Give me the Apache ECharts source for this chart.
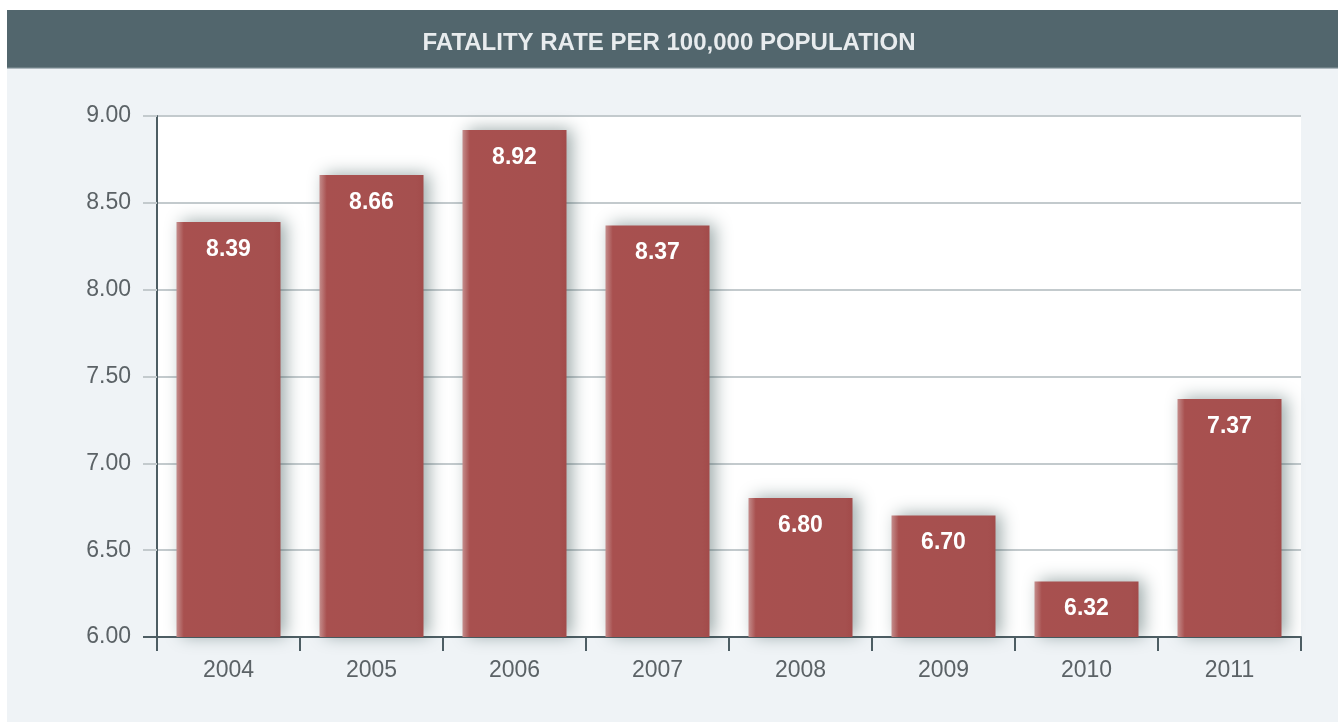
<!DOCTYPE html>
<html>
<head>
<meta charset="utf-8">
<script src="https://cdn.jsdelivr.net/npm/echarts@6/dist/echarts.min.js"></script>
<style>
  html, body { margin: 0; padding: 0; background: #ffffff; }
  #chart { width: 1338px; height: 723px; }
</style>
</head>
<body>
<div id="chart"></div>
<script>
// Fatality rate per 100,000 population, by year
const years = ['2004', '2005', '2006', '2007', '2008', '2009', '2010', '2011'];
const rates = [8.39, 8.66, 8.92, 8.37, 6.80, 6.70, 6.32, 7.37];
const yTicks = { min: 6, max: 9, step: 0.5 };
const titleText = 'FATALITY RATE PER 100,000 POPULATION';

const narrow = '"Liberation Sans Narrow", "Arial Narrow", "Liberation Sans", sans-serif';

const chart = echarts.init(document.getElementById('chart'), null, { renderer: 'canvas' });

const barFill = new echarts.graphic.LinearGradient(0, 0, 1, 0, [
  { offset: 0, color: '#c48c8b' },
  { offset: 0.07, color: '#a8504f' },
  { offset: 0.93, color: '#a5504f' },
  { offset: 1, color: '#a24b4a' }
]);

chart.setOption({
  animation: false,
  backgroundColor: '#ffffff',
  graphic: [
    { type: 'rect', silent: true, z: -10, shape: { x: 7, y: 10, width: 1331, height: 712 }, style: { fill: '#eff3f6' } },
    { type: 'rect', silent: true, z: -9, shape: { x: 7, y: 10, width: 1331, height: 58 }, style: { fill: '#52666d' } },
    { type: 'rect', silent: true, z: -9, shape: { x: 7, y: 67, width: 1331, height: 1.5 }, style: { fill: '#6d7f85' } },
    // dark stub of the baseline to the left of the value axis
    { type: 'rect', silent: true, z: 10, shape: { x: 143, y: 636, width: 15, height: 2 }, style: { fill: '#4d5d63' } }
  ],
  title: {
    text: titleText,
    left: 'center',
    top: 26,
    textStyle: { color: '#e8ecee', fontFamily: narrow, fontWeight: 'bold', fontSize: 24 }
  },
  grid: { left: 157, right: 37, top: 116, bottom: 86, show: true, backgroundColor: '#ffffff', borderWidth: 0 },
  xAxis: {
    type: 'category',
    data: years,
    boundaryGap: true,
    axisLine: { lineStyle: { color: '#4d5d63', width: 2 } },
    axisTick: { show: true, length: 14, lineStyle: { color: '#4d5d63', width: 2 } },
    axisLabel: { color: '#5b6266', fontFamily: narrow, fontSize: 23, margin: 22 },
    splitLine: { show: false }
  },
  yAxis: {
    type: 'value',
    min: yTicks.min,
    max: yTicks.max,
    interval: yTicks.step,
    axisLine: { show: true, lineStyle: { color: '#4d5d63', width: 2 } },
    axisTick: { show: true, length: 14, lineStyle: { color: '#c3cacd', width: 2 } },
    axisLabel: {
      color: '#5b6266', fontFamily: narrow, fontSize: 23, margin: 26,
      formatter: v => v.toFixed(2)
    },
    splitLine: { show: true, lineStyle: { color: '#c3cacd', width: 2 } }
  },
  series: [{
    type: 'bar',
    data: rates,
    barWidth: 104,
    itemStyle: {
      color: barFill,
      shadowBlur: 16,
      shadowColor: 'rgba(40,70,70,0.45)',
      shadowOffsetX: 5,
      shadowOffsetY: -1
    },
    label: {
      show: true,
      position: 'insideTop',
      distance: 16,
      color: '#ffffff',
      fontFamily: narrow,
      fontWeight: 'bold',
      fontSize: 23,
      formatter: p => p.value.toFixed(2)
    }
  }]
});
</script>
</body>
</html>
